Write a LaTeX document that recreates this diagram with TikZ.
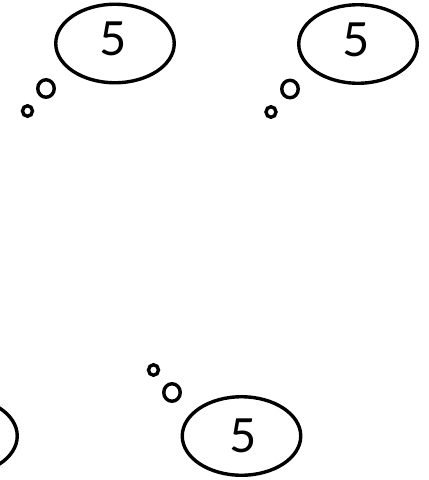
\documentclass[tikz,border=0pt]{standalone}
\usepackage{fontspec}
\setsansfont{Lato}
\usepackage{xcolor}
\usepackage{tikz}
\usetikzlibrary{shapes.geometric}
\definecolor{thInk}{HTML}{000000}
\tikzset{
  th diagram/.style={x=1pt, y=-1pt, line width=3.4pt, draw=thInk, text=thInk,
    font=\sffamily\fontsize{47}{47}\selectfont},
  th bubble/.style={ellipse, draw=thInk, fill=white, inner sep=0pt,
    minimum width=118.5pt, minimum height=78.5pt},
  th puff/.style={ellipse, draw=thInk, inner sep=0pt,
    minimum width=16.5pt, minimum height=17.5pt},
  th dot/.style={th puff, minimum width=10pt, minimum height=10.5pt},
  th digit/.style={text=thInk, inner sep=0pt}
}
\begin{document}
\begin{tikzpicture}[th diagram]
\useasboundingbox (0,0) rectangle (429,480);
\clip (0,0) rectangle (429,480);
% upper pair
\node[th bubble] (bubbleA) at (115,43.5) {};
\node[th digit] (digitA) at (113.5,39) {5};
\node[th puff] (puffA) at (46,88.5) {};
\node[th dot] (dotA) at (27.5,111) {};
\node[th bubble] (bubbleB) at (358,44) {};
\node[th digit] (digitB) at (356.5,39.5) {5};
\node[th puff] (puffB) at (290,89) {};
\node[th dot] (dotB) at (271,112) {};
% lower pair
\node[th bubble] (bubbleC) at (-42,436) {};
\node[th bubble] (bubbleD) at (241.5,436) {};
\node[th digit] (digitD) at (243,435.5) {5};
\node[th puff] (puffD) at (172,392.5) {};
\node[th dot] (dotD) at (153.5,370) {};
\end{tikzpicture}
\end{document}
